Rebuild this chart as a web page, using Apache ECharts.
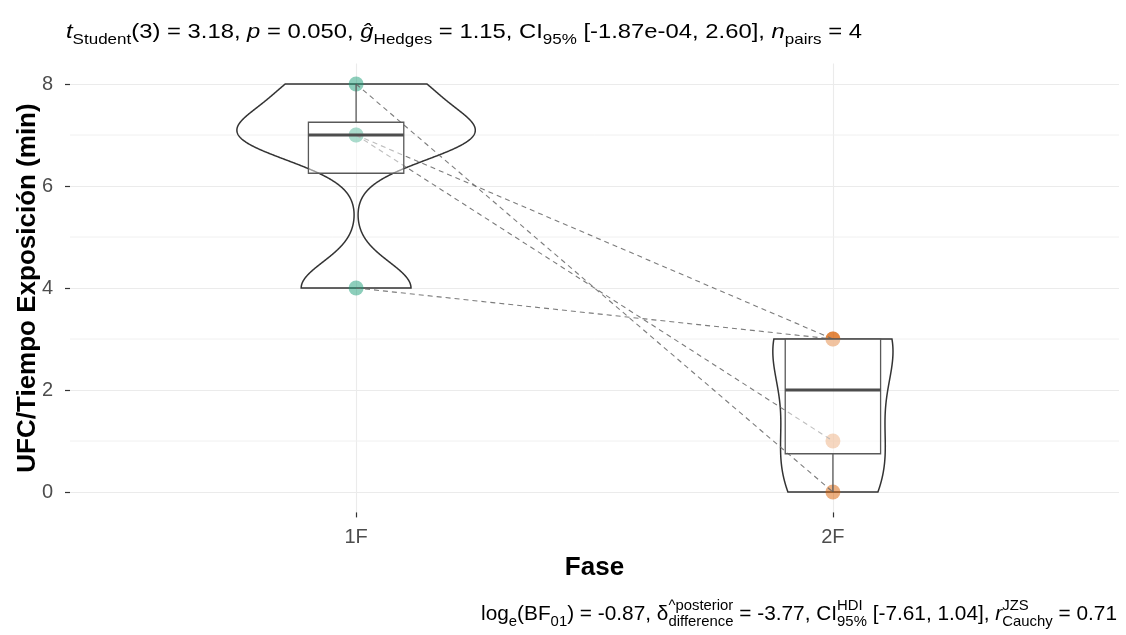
<!DOCTYPE html>
<html lang="es">
<head>
    <meta charset="UTF-8">
    <title>UFC por fase</title>
    <script src="https://cdn.jsdelivr.net/npm/echarts@6/dist/echarts.min.js"></script>
    <style>
        html, body { margin: 0; padding: 0; background: #fff; }
        #main { width: 1126px; height: 635px; }
    </style>
</head>
<body>
    <div id="main"></div>
    <script type="text/javascript">
        // datos (pares 1F -> 2F)
        var phases = ['1F', '2F'];
        var fase1 = [8, 7, 7, 4];
        var fase2 = [0, 3, 1, 3];
        var yTicks = [0, 2, 4, 6, 8];
        var yMinor = [1, 3, 5, 7];
        var colors = ['#1B9E77', '#D95F02'];

        var groups = [fase1, fase2];
        var FONT = 'Liberation Sans';

        function quantile(arr, p) {
            var s = arr.slice().sort(function (a, b) { return a - b; });
            var h = (s.length - 1) * p, lo = Math.floor(h);
            if (lo + 1 >= s.length) return s[lo];
            return s[lo] + (h - lo) * (s[lo + 1] - s[lo]);
        }
        function stdev(arr) {
            var m = arr.reduce(function (a, b) { return a + b; }, 0) / arr.length;
            var ss = arr.reduce(function (a, b) { return a + (b - m) * (b - m); }, 0);
            return Math.sqrt(ss / (arr.length - 1));
        }
        // bw.nrd0 como en R
        function bwNrd0(arr) {
            var lo = Math.min(stdev(arr), (quantile(arr, 0.75) - quantile(arr, 0.25)) / 1.34);
            return 0.9 * lo * Math.pow(arr.length, -0.2);
        }
        function density(arr) {
            var bw = bwNrd0(arr);
            var lo = Math.min.apply(null, arr), hi = Math.max.apply(null, arr);
            var out = [];
            for (var k = 0; k < 512; k++) {
                var y = lo + (hi - lo) * k / 511, d = 0;
                arr.forEach(function (v) {
                    var u = (y - v) / bw;
                    d += Math.exp(-0.5 * u * u) / Math.sqrt(2 * Math.PI);
                });
                out.push([y, d / (arr.length * bw)]);
            }
            return out;
        }
        function boxStats(arr) {
            var q1 = quantile(arr, 0.25), med = quantile(arr, 0.5), q3 = quantile(arr, 0.75);
            var iqr = q3 - q1;
            var inner = arr.filter(function (v) {
                return v >= q1 - 1.5 * iqr && v <= q3 + 1.5 * iqr;
            }).concat([q1, med, q3]);
            return [Math.min.apply(null, inner), q1, med, q3, Math.max.apply(null, inner)];
        }

        var violins = groups.map(function (g) { return density(g); });
        var maxDens = 0;
        violins.forEach(function (v) {
            v.forEach(function (p) { if (p[1] > maxDens) maxDens = p[1]; });
        });
        var boxes = groups.map(boxStats);

        // texto con subindices / superindices
        var ctx = document.createElement('canvas').getContext('2d');
        function fontStr(size, it) { return (it ? 'italic ' : '') + size + 'px "' + FONT + '"'; }
        function textW(t, size, it) { ctx.font = fontStr(size, it); return ctx.measureText(t).width; }
        function midOff(size) {
            ctx.font = fontStr(size, false);
            ctx.textBaseline = 'middle';
            return ctx.measureText('x').actualBoundingBoxDescent;
        }
        function txt(t, x, base, size, it) {
            return {
                type: 'text', x: x, y: base - midOff(size),
                style: {
                    text: t, fontSize: size, fontFamily: FONT,
                    fontStyle: it ? 'italic' : 'normal', fill: '#000',
                    align: 'left', verticalAlign: 'middle'
                }
            };
        }
        function mathLine(pieces, B, base) {
            var small = Math.round(B * 0.7), x = 0, els = [];
            pieces.forEach(function (p) {
                if (p.sup !== undefined) {
                    els.push(txt(p.sup, x, base - 0.5 * B, small, false));
                    els.push(txt(p.sub, x, base + 0.3 * B, small, false));
                    x += Math.max(textW(p.sup, small), textW(p.sub, small));
                } else if (p.pos === 'sub') {
                    els.push(txt(p.t, x, base + 0.28 * B, small, p.it));
                    x += textW(p.t, small, p.it);
                } else {
                    els.push(txt(p.t, x, base, B, p.it));
                    x += textW(p.t, B, p.it);
                }
            });
            return { els: els, width: x };
        }

        var titleLine = mathLine([
            { t: 't', it: true }, { t: 'Student', pos: 'sub' }, { t: '(3) = 3.18, ' },
            { t: 'p', it: true }, { t: ' = 0.050, ' },
            { t: 'ĝ', it: true }, { t: 'Hedges', pos: 'sub' }, { t: ' = 1.15, CI' },
            { t: '95%', pos: 'sub' }, { t: ' [-1.87e-04, 2.60], ' },
            { t: 'n', it: true }, { t: 'pairs', pos: 'sub' }, { t: ' = 4' }
        ], 21, 0);
        var capLine = mathLine([
            { t: 'log' }, { t: 'e', pos: 'sub' }, { t: '(BF' }, { t: '01', pos: 'sub' },
            { t: ') = -0.87, ' }, { t: 'δ' }, { sup: '^posterior', sub: 'difference' },
            { t: ' = -3.77, CI' }, { sup: 'HDI', sub: '95%' }, { t: ' [-7.61, 1.04], ' },
            { t: 'r', it: true }, { sup: 'JZS', sub: 'Cauchy' }, { t: ' = 0.71' }
        ], 21, 0);
        var titleScale = 796 / titleLine.width;
        var capScale = 636 / capLine.width;

        var myChart = echarts.init(document.getElementById('main'));

        var option = {
            backgroundColor: '#fff',
            animation: false,
            textStyle: { fontFamily: FONT },
            grid: { left: 70, right: 7, top: 63.6, bottom: 122.6, containLabel: false },
            xAxis: {
                type: 'value', min: 0.4, max: 2.6,
                name: 'Fase', nameLocation: 'middle', nameGap: 42, nameMoveOverlap: false,
                nameTextStyle: { fontSize: 26, fontWeight: 'bold', color: '#000', fontFamily: FONT },
                axisLine: { show: false, onZero: false },
                axisTick: { show: true, length: 5, customValues: [1, 2], lineStyle: { color: '#333', width: 1.2 } },
                axisLabel: {
                    customValues: [1, 2], margin: 15, fontSize: 20, color: '#4D4D4D', fontFamily: FONT,
                    formatter: function (v) { return phases[Math.round(v) - 1]; }
                },
                splitLine: { show: true, lineStyle: { color: '#EBEBEB', width: 1.1 } }
            },
            yAxis: {
                type: 'value', min: -0.4, max: 8.4,
                name: 'UFC/Tiempo Exposición (min)', nameLocation: 'middle', nameGap: 29, nameMoveOverlap: false,
                nameTextStyle: { fontSize: 26, fontWeight: 'bold', color: '#000', fontFamily: FONT },
                axisLine: { show: false, onZero: false },
                axisTick: { show: true, length: 5, customValues: yTicks, lineStyle: { color: '#333', width: 1.2 } },
                axisLabel: { customValues: yTicks, margin: 17, fontSize: 20, color: '#4D4D4D', fontFamily: FONT },
                splitLine: { show: true, lineStyle: { color: '#EBEBEB', width: 1.1 } }
            },
            graphic: [
                { type: 'group', x: 66, y: 38, scaleX: titleScale, children: titleLine.els },
                { type: 'group', x: 1117 - capLine.width * capScale, y: 620, scaleX: capScale, children: capLine.els }
            ],
            series: [
                {
                    // lineas menores de la rejilla
                    type: 'custom', name: 'minor', z: 0, silent: true,
                    data: yMinor.map(function (v) { return [0.4, v]; }),
                    renderItem: function (params, api) {
                        var v = yMinor[params.dataIndex];
                        var a = api.coord([0.4, v]), b = api.coord([2.6, v]);
                        return {
                            type: 'line', shape: { x1: a[0], y1: a[1], x2: b[0], y2: b[1] },
                            style: { stroke: '#F0F0F0', lineWidth: 1 }
                        };
                    }
                },
                {
                    type: 'custom', name: 'violin', z: 1, silent: true,
                    data: [[1, 0], [2, 0]],
                    renderItem: function (params, api) {
                        var i = params.dataIndex, d = violins[i], x = i + 1, pts = [];
                        d.forEach(function (p) { pts.push(api.coord([x - 0.25 * p[1] / maxDens, p[0]])); });
                        for (var k = d.length - 1; k >= 0; k--) {
                            pts.push(api.coord([x + 0.25 * d[k][1] / maxDens, d[k][0]]));
                        }
                        return {
                            type: 'polygon', shape: { points: pts },
                            style: { fill: 'none', stroke: '#333', lineWidth: 1.5 }
                        };
                    }
                },
                {
                    type: 'scatter', name: '1F', z: 2, symbolSize: 15,
                    itemStyle: { color: colors[0], opacity: 0.5 },
                    data: fase1.map(function (v) { return [1, v]; })
                },
                {
                    type: 'scatter', name: '2F', z: 2, symbolSize: 15,
                    itemStyle: { color: colors[1], opacity: 0.5 },
                    data: fase2.map(function (v) { return [2, v]; })
                },
                {
                    type: 'custom', name: 'pares', z: 3, silent: true,
                    data: fase1.map(function (v, i) { return [1, v, 2, fase2[i]]; }),
                    renderItem: function (params, api) {
                        var a = api.coord([api.value(0), api.value(1)]);
                        var b = api.coord([api.value(2), api.value(3)]);
                        return {
                            type: 'line', shape: { x1: a[0], y1: a[1], x2: b[0], y2: b[1] },
                            style: { stroke: '#6E6E6E', lineWidth: 1.1, lineDash: [5, 4], opacity: 0.9 }
                        };
                    }
                },
                {
                    type: 'custom', name: 'box', z: 4, silent: true,
                    data: [[1, 0], [2, 0]],
                    renderItem: function (params, api) {
                        var i = params.dataIndex, s = boxes[i], x = i + 1;
                        var tl = api.coord([x - 0.1, s[3]]), br = api.coord([x + 0.1, s[1]]);
                        var m1 = api.coord([x - 0.1, s[2]]), m2 = api.coord([x + 0.1, s[2]]);
                        var lo = api.coord([x, s[0]]), q1 = api.coord([x, s[1]]);
                        var q3 = api.coord([x, s[3]]), hi = api.coord([x, s[4]]);
                        var st = { stroke: '#595959', lineWidth: 1.3 };
                        return {
                            type: 'group', children: [
                                { type: 'line', shape: { x1: q3[0], y1: q3[1], x2: hi[0], y2: hi[1] }, style: st },
                                { type: 'line', shape: { x1: q1[0], y1: q1[1], x2: lo[0], y2: lo[1] }, style: st },
                                {
                                    type: 'rect',
                                    shape: { x: tl[0], y: tl[1], width: br[0] - tl[0], height: br[1] - tl[1] },
                                    style: { fill: 'rgba(255,255,255,0.5)', stroke: '#595959', lineWidth: 1.3 }
                                },
                                {
                                    type: 'line', shape: { x1: m1[0], y1: m1[1], x2: m2[0], y2: m2[1] },
                                    style: { stroke: '#4D4D4D', lineWidth: 2.8 }
                                }
                            ]
                        };
                    }
                }
            ]
        };
        myChart.setOption(option);
    </script>
</body>
</html>
